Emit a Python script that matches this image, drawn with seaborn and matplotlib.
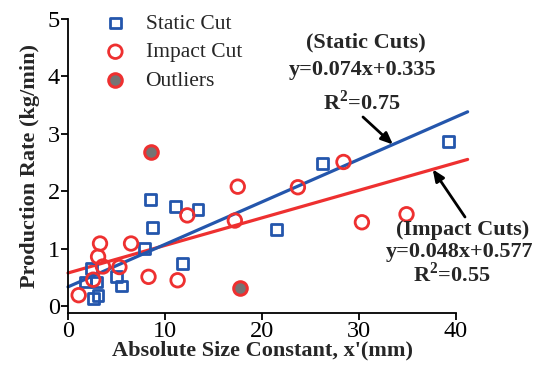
import matplotlib
matplotlib.use("Agg")
import matplotlib.pyplot as plt
import seaborn as sns
import numpy as np
import pandas as pd

# ---- data ----
static_x = [1.8, 2.9, 2.4, 2.6, 3.1, 5.0, 5.5, 7.9, 8.5, 8.7, 11.1, 11.8, 13.4, 21.5, 26.2, 39.2]
static_y = [0.42, 0.42, 0.65, 0.13, 0.19, 0.51, 0.35, 1.00, 1.85, 1.37, 1.74, 0.74, 1.68, 1.33, 2.49, 2.87]

impact_x = [1.1, 2.6, 3.3, 3.1, 3.6, 5.3, 6.5, 8.3, 11.3, 12.3, 17.5, 17.2, 23.7, 28.4, 30.3, 34.9]
impact_y = [0.19, 0.46, 1.09, 0.86, 0.69, 0.68, 1.09, 0.51, 0.45, 1.58, 2.08, 1.49, 2.07, 2.51, 1.46, 1.60]

outlier_x = [8.6, 17.7]
outlier_y = [2.69, 0.32]

# linear fits: slope, intercept, R^2
static_fit = (0.074, 0.335, 0.75)
impact_fit = (0.048, 0.577, 0.55)
fit_x_range = [0.0, 41.2]

x_ticks = [0, 10, 20, 30, 40]
y_ticks = [0, 1, 2, 3, 4, 5]

# ---- style ----
sns.set_style("ticks")
plt.rcParams["font.family"] = ["Liberation Serif", "DejaVu Serif"]
plt.rcParams["mathtext.fontset"] = "custom"
plt.rcParams["mathtext.rm"] = "Liberation Serif"
plt.rcParams["mathtext.bf"] = "Liberation Serif:bold"

BLUE = "#2456ac"
RED = "#ee3030"
GRAY = "#747474"

W, H = 535, 370
fig = plt.figure(figsize=(W / 100, H / 100), dpi=100)
ax = fig.add_axes([68 / W, 1 - 313 / H, (456 - 68) / W, (313 - 19) / H])

df_static = pd.DataFrame({"x": static_x, "y": static_y})
df_impact = pd.DataFrame({"x": impact_x, "y": impact_y})
df_out = pd.DataFrame({"x": outlier_x, "y": outlier_y})

# regression lines
fx = np.array(fit_x_range)
for (m, b, _), col in [(impact_fit, RED), (static_fit, BLUE)]:
    sns.lineplot(x=fx, y=m * fx + b, color=col, lw=2.3, ax=ax, clip_on=False, zorder=2)

sns.scatterplot(data=df_static, x="x", y="y", marker="s", s=60, facecolor="none",
                edgecolor=BLUE, linewidth=2, ax=ax, label="Static Cut", clip_on=False, zorder=3)
sns.scatterplot(data=df_impact, x="x", y="y", marker="o", s=95, facecolor="none",
                edgecolor=RED, linewidth=2, ax=ax, label="Impact Cut", clip_on=False, zorder=3)
sns.scatterplot(data=df_out, x="x", y="y", marker="o", s=95, facecolor=GRAY,
                edgecolor=RED, linewidth=2.2, ax=ax, label="Outliers", clip_on=False, zorder=3)

ax.set_xlim(0, 40)
ax.set_ylim(-0.12, 5)
ax.set_xticks(x_ticks)
ax.set_yticks(y_ticks)
ax.tick_params(labelsize=17.5, length=5, width=1.3, direction="out", pad=1, colors="black")
for s in ["left", "bottom"]:
    ax.spines[s].set_linewidth(1.3)
    ax.spines[s].set_color("black")
sns.despine(ax=ax)

ax.set_xlabel("Absolute Size Constant, x'(mm)", fontsize=16, fontweight="bold", labelpad=-1)
ax.set_ylabel("Production Rate (kg/min)", fontsize=16, fontweight="bold", labelpad=5)

leg = ax.legend(loc="upper left", bbox_to_anchor=(96 / W, 1 - 5 / H), bbox_transform=fig.transFigure,
                frameon=False, fontsize=15.5, handletextpad=0.9, labelspacing=0.4,
                borderaxespad=0, handlelength=1.0)

# fit annotations
def label_block(cx, ys, title, fit):
    m, b, r2 = fit
    lines = [title, f"y={m:.3f}x+{b:.3f}", r"R$^{\mathbf{2}}$=" + f"{r2:.2f}"]
    for (yy, dx), t in zip(ys, lines):
        fig.text((cx + dx) / W, 1 - yy / H, t, ha="center", va="center",
                 fontsize=16, fontweight="bold")

label_block(366, [(42, 0), (70, -3), (102, -4)], "(Static Cuts)", static_fit)
label_block(463, [(230, 0), (252, -3), (275, -11)], "(Impact Cuts)", impact_fit)

# arrows pointing at the fit lines
def arrow_to_line(fit, x_tip, tail_px):
    m, b, _ = fit
    tail = ax.transData.inverted().transform((tail_px[0], H - tail_px[1]))
    ax.annotate("", xy=(x_tip, m * x_tip + b), xytext=tail, xycoords="data", textcoords="data",
                arrowprops=dict(arrowstyle="-|>,head_length=0.7,head_width=0.3", color="black",
                                lw=2, shrinkA=0, shrinkB=0),
                annotation_clip=False)

arrow_to_line(static_fit, 33.5, (363, 117))
arrow_to_line(impact_fit, 37.6, (465, 217))

fig.savefig("out.png", dpi=100)
